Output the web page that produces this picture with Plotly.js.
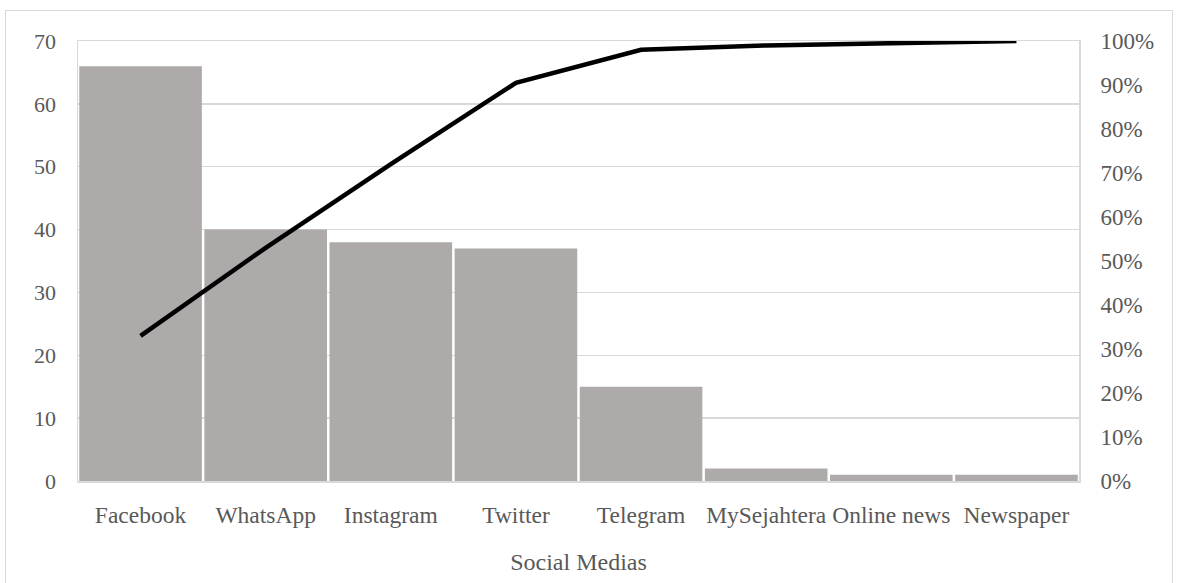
<!DOCTYPE html>
<html>
<head>
<meta charset="utf-8">
<script src="https://cdn.plot.ly/plotly-3.0.1.min.js"></script>
<style>
html,body{margin:0;padding:0;background:#fff;}
#frame{position:absolute;left:5px;top:10px;width:1166px;height:580px;border:1px solid #d9d9d9;}
#chart{position:absolute;left:0;top:0;width:1178px;height:583px;}
</style>
</head>
<body>
<div id="frame"></div>
<div id="chart"></div>
<script>
const categories = ["Facebook","WhatsApp","Instagram","Twitter","Telegram","MySejahtera","Online news","Newspaper"];
const counts = [66, 40, 38, 37, 15, 2, 1, 1];
const cumulativePct = [33, 53, 72, 90.5, 98, 99, 99.5, 100];
const leftTicks = [0,10,20,30,40,50,60,70];
const rightTicks = [0,10,20,30,40,50,60,70,80,90,100];
const rightTickText = rightTicks.map(v => v + "%");

const fam = "Liberation Serif, Times New Roman, serif";
const font = {family: fam, size: 22, color: "#595959"};
const catFont = {family: fam, size: 23.5, color: "#595959"};
const pctFont = {family: fam, size: 23, color: "#595959"};
const titleFont = {family: fam, size: 24, color: "#595959"};

const traces = [
  {type: "bar", x: categories, y: counts, marker: {color: "#aeaaaa"}, hoverinfo: "x+y", showlegend: false},
  {type: "scatter", mode: "lines", x: categories, y: cumulativePct, yaxis: "y2",
   line: {color: "#000000", width: 4.5}, showlegend: false}
];

const layout = {
  width: 1178, height: 583,
  margin: {l: 78, r: 99, t: 41, b: 102},
  paper_bgcolor: "rgba(0,0,0,0)",
  plot_bgcolor: "#ffffff",
  font: font,
  bargap: 0.02,
  xaxis: {
    showline: true, mirror: true, linecolor: "#d9d9d9", linewidth: 1.5,
    ticks: "outside", ticklen: 12, tickcolor: "rgba(0,0,0,0)",
    tickfont: catFont,
    title: {text: "Social Medias", font: titleFont, standoff: 26}
  },
  yaxis: {
    range: [0, 70], tickvals: leftTicks, showgrid: true, gridcolor: "#d9d9d9", gridwidth: 1.5,
    showline: true, mirror: true, linecolor: "#d9d9d9", linewidth: 1.5, zeroline: false,
    ticks: "outside", ticklen: 16, tickcolor: "rgba(0,0,0,0)", tickfont: font
  },
  yaxis2: {
    overlaying: "y", side: "right", range: [0, 100], tickvals: rightTicks, ticktext: rightTickText,
    showgrid: false, zeroline: false, showline: false,
    ticks: "outside", ticklen: 16, tickcolor: "rgba(0,0,0,0)", tickfont: pctFont
  }
};

Plotly.newPlot("chart", traces, layout, {displayModeBar: false, staticPlot: true});
</script>
</body>
</html>
